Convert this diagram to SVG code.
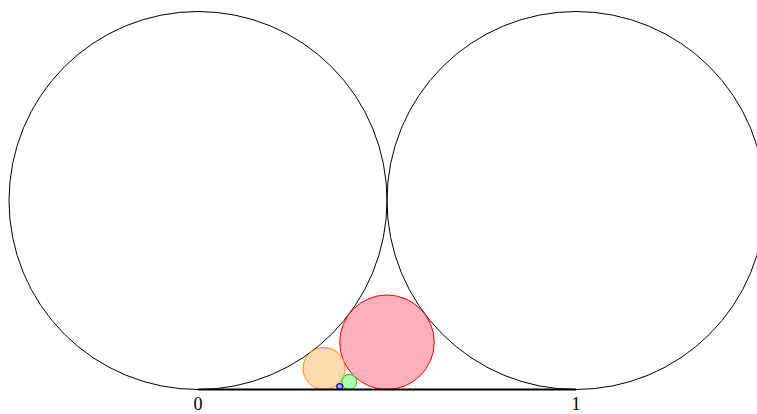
<svg xmlns="http://www.w3.org/2000/svg" width="757" height="414" viewBox="0 0 757 414">
<style>
.big{fill:none;stroke:#000;stroke-width:1}
.lbl{font-family:"Liberation Serif",serif;font-size:18px;fill:#000;text-anchor:middle}
</style>
<rect width="757" height="414" fill="#fff"/>
<g id="circle-0"><circle class="big" cx="198" cy="200.5" r="189"/></g>
<g id="circle-1"><circle class="big" cx="576" cy="200.5" r="189"/></g>
<g id="circle-1-2"><circle cx="387" cy="342.25" r="47.25" fill="#ffb0ba" stroke="#ff0000" stroke-width="1"/></g>
<g id="circle-1-3"><circle cx="324" cy="368.5" r="21" fill="#ffdcb0" stroke="#ff8c00" stroke-width="1"/></g>
<g id="circle-2-5"><circle cx="349.2" cy="381.94" r="7.56" fill="#b0ffb0" stroke="#00e000" stroke-width="1"/></g>
<g id="circle-3-8"><circle cx="339.75" cy="386.55" r="2.95" fill="#b0b0ff" stroke="#0000ff" stroke-width="1.3"/></g>
<g id="connectors"><line x1="198" y1="389.5" x2="576" y2="389.5" stroke="#000" stroke-width="2.2"/></g>
<g id="labels">
<text class="lbl" x="198" y="410">0</text>
<text class="lbl" x="576" y="410">1</text>
</g>
</svg>
